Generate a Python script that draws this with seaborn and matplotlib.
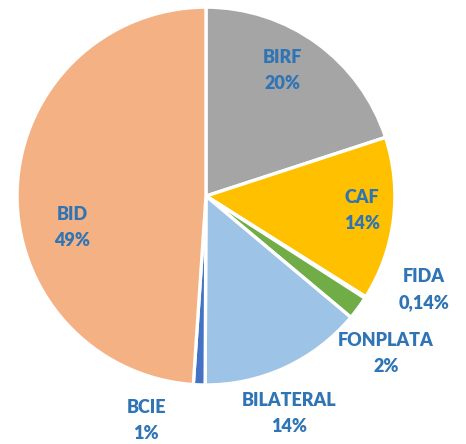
import matplotlib
matplotlib.use("Agg")
import matplotlib.pyplot as plt
import seaborn as sns

# --- datos ---
fuentes = ["BIRF", "CAF", "FIDA", "FONPLATA", "BILATERAL", "BCIE", "BID"]
porcentajes = [20, 14, 0.14, 2, 14, 1, 49]
etiquetas = ["20%", "14%", "0,14%", "2%", "14%", "1%", "49%"]

colores = ["#A5A5A5", "#FFC000", "#5B9BD5", "#70AD47", "#9DC3E6", "#4472C4", "#F4B183"]
# posicion de cada etiqueta (coordenadas del eje, radio = 1)
pos_etiquetas = [(0.407, 0.667), (0.825, -0.074), (1.153, -0.497), (0.952, -0.831),
                 (0.439, -1.153), (-0.317, -1.19), (-0.709, -0.164)]

sns.set_style("white")
plt.rcParams["font.family"] = ["Lato", "DejaVu Sans"]

fig = plt.figure(figsize=(4.66, 4.44), dpi=100)
ax = fig.add_axes([0.0365, 0.1329, 0.811, 0.851])

ax.pie(porcentajes, colors=colores, startangle=90, counterclock=False, radius=1,
       wedgeprops=dict(edgecolor="white", linewidth=2.4))

for nombre, txt, (x, y) in zip(fuentes, etiquetas, pos_etiquetas):
    ax.text(x, y, f"{nombre}\n{txt}", ha="center", va="center", fontsize=13,
            fontweight="heavy", color="#2F74B5", linespacing=1.65)

ax.set_xlim(-1, 1)
ax.set_ylim(-1, 1)
ax.set_aspect("equal")
ax.axis("off")

fig.savefig("out.png", dpi=100)
